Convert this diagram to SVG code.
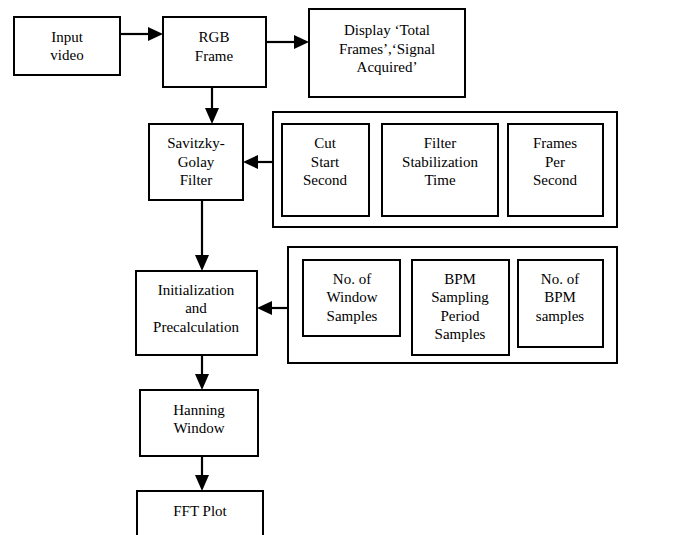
<svg xmlns="http://www.w3.org/2000/svg" width="680" height="535" viewBox="0 0 680 535">
<defs>
<style>
.box{fill:#fff;stroke:#000;stroke-width:2}
.t{font-family:"Liberation Serif","Times New Roman",serif;font-size:15px;fill:#000;text-anchor:middle}
.c{stroke:#000;stroke-width:2.2;fill:none}
.h{fill:#000;stroke:none}
</style>
</defs>
<rect width="680" height="535" fill="#fff"/>
<g id="connectors">
<line class="c" x1="120" y1="34" x2="150" y2="34"/><polygon class="h" points="163,34 148,27 148,41"/>
<line class="c" x1="266" y1="42" x2="295" y2="42"/><polygon class="h" points="309,42 294,35 294,49"/>
<line class="c" x1="212" y1="87" x2="212" y2="110"/><polygon class="h" points="212,124 205,108 219,108"/>
<line class="c" x1="273" y1="162" x2="256" y2="162"/><polygon class="h" points="243,162 258,155 258,169"/>
<line class="c" x1="202" y1="200" x2="202" y2="257"/><polygon class="h" points="202,271 195,255 209,255"/>
<line class="c" x1="288" y1="308" x2="271" y2="308"/><polygon class="h" points="257,308 272,301 272,315"/>
<line class="c" x1="202" y1="355" x2="202" y2="376"/><polygon class="h" points="202,390 195,374 209,374"/>
<line class="c" x1="202" y1="456" x2="202" y2="477"/><polygon class="h" points="202,491 195,475 209,475"/>
</g>
<g id="input">
<rect class="box" x="14" y="17" width="106" height="58"/>
<text class="t" x="67" y="42">Input</text><text class="t" x="67" y="60">video</text>
</g>
<g id="rgb">
<rect class="box" x="163" y="17" width="103" height="70"/>
<text class="t" x="214" y="42">RGB</text><text class="t" x="214" y="61">Frame</text>
</g>
<g id="display">
<rect class="box" x="309" y="9" width="156" height="88"/>
<text class="t" x="387" y="35">Display ‘Total</text><text class="t" x="387" y="54">Frames’,‘Signal</text><text class="t" x="387" y="72">Acquired’</text>
</g>
<g id="savitzky">
<rect class="box" x="149" y="124" width="94" height="76"/>
<text class="t" x="196" y="148">Savitzky-</text><text class="t" x="196" y="167">Golay</text><text class="t" x="196" y="185">Filter</text>
</g>
<g id="params1">
<rect class="box" x="273" y="112" width="344" height="115"/>
<g id="cut">
<rect class="box" x="282" y="124" width="87" height="92"/>
<text class="t" x="325" y="148">Cut</text><text class="t" x="325" y="167">Start</text><text class="t" x="325" y="185">Second</text>
</g>
<g id="filterstab">
<rect class="box" x="382" y="124" width="116" height="92"/>
<text class="t" x="440" y="148">Filter</text><text class="t" x="440" y="167">Stabilization</text><text class="t" x="440" y="185">Time</text>
</g>
<g id="fps">
<rect class="box" x="508" y="124" width="95" height="92"/>
<text class="t" x="555" y="148">Frames</text><text class="t" x="555" y="167">Per</text><text class="t" x="555" y="185">Second</text>
</g>
</g>
<g id="init">
<rect class="box" x="136" y="271" width="121" height="84"/>
<text class="t" x="196" y="295">Initialization</text><text class="t" x="196" y="313">and</text><text class="t" x="196" y="332">Precalculation</text>
</g>
<g id="params2">
<rect class="box" x="288" y="247" width="329" height="116"/>
<g id="winsamples">
<rect class="box" x="303" y="260" width="97" height="76"/>
<text class="t" x="352" y="284">No. of</text><text class="t" x="352" y="302">Window</text><text class="t" x="352" y="321">Samples</text>
</g>
<g id="bpmperiod">
<rect class="box" x="412" y="260" width="97" height="95"/>
<text class="t" x="460" y="284">BPM</text><text class="t" x="460" y="302">Sampling</text><text class="t" x="460" y="321">Period</text><text class="t" x="460" y="339">Samples</text>
</g>
<g id="bpmsamples">
<rect class="box" x="518" y="260" width="85" height="87"/>
<text class="t" x="560" y="284">No. of</text><text class="t" x="560" y="302">BPM</text><text class="t" x="560" y="321">samples</text>
</g>
</g>
<g id="hanning">
<rect class="box" x="140" y="390" width="118" height="66"/>
<text class="t" x="199" y="415">Hanning</text><text class="t" x="199" y="433">Window</text>
</g>
<g id="fft">
<rect class="box" x="137" y="491" width="126" height="60"/>
<text class="t" x="200" y="516">FFT Plot</text>
</g>
</svg>
